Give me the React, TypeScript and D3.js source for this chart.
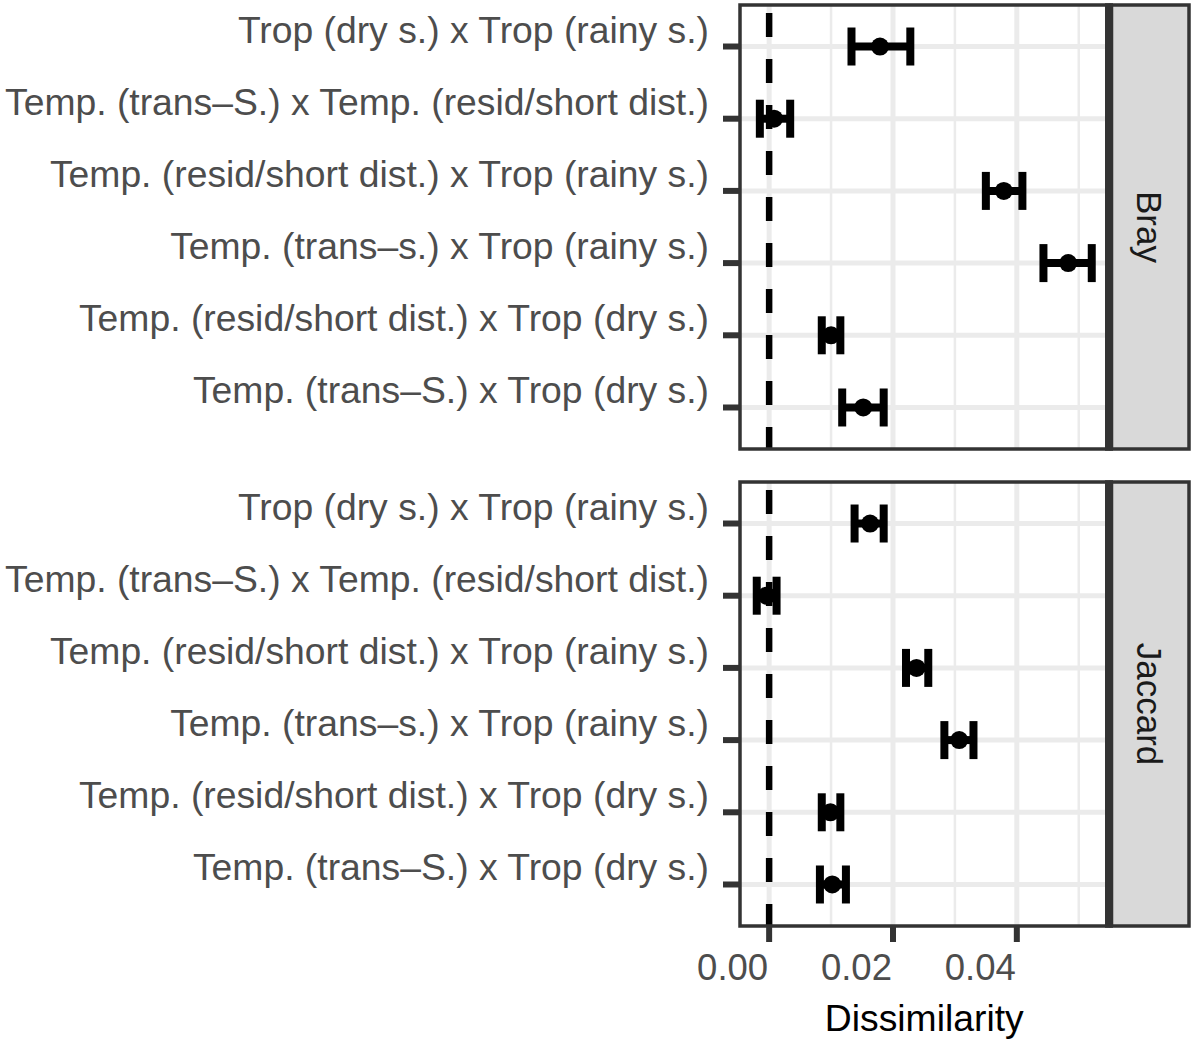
import React from "react";
import * as d3 from "d3";

// Pairwise comparisons, listed top to bottom
const categories = [
  "Trop (dry s.) x Trop (rainy s.)",
  "Temp. (trans–S.) x Temp. (resid/short dist.)",
  "Temp. (resid/short dist.) x Trop (rainy s.)",
  "Temp. (trans–s.) x Trop (rainy s.)",
  "Temp. (resid/short dist.) x Trop (dry s.)",
  "Temp. (trans–S.) x Trop (dry s.)",
];

const facets = ["Bray", "Jaccard"];

const brayMean = [0.0179, 0.0008, 0.0379, 0.0483, 0.01, 0.0152];
const brayLower = [0.0133, -0.0015, 0.035, 0.0443, 0.0085, 0.0118];
const brayUpper = [0.0228, 0.0034, 0.0409, 0.0521, 0.0115, 0.0185];

const jaccardMean = [0.0163, -0.0004, 0.0238, 0.0307, 0.0099, 0.0102];
const jaccardLower = [0.0138, -0.002, 0.0221, 0.0283, 0.0085, 0.0082];
const jaccardUpper = [0.0185, 0.0012, 0.0257, 0.033, 0.0115, 0.0124];

const majorTicks = [0, 0.02, 0.04];
const minorTicks = [0.01, 0.03, 0.05];
const tickLabels = ["0.00", "0.02", "0.04"];
const xTitle = "Dissimilarity";

type Row = { cat: string; mean: number; lower: number; upper: number };

const panelData: Row[][] = [
  categories.map((c, i) => ({ cat: c, mean: brayMean[i], lower: brayLower[i], upper: brayUpper[i] })),
  categories.map((c, i) => ({ cat: c, mean: jaccardMean[i], lower: jaccardLower[i], upper: jaccardUpper[i] })),
];

const W = 1192;
const H = 1041;
const left = 740;
const right = 1108.5;
const stripL = 1111.5;
const stripR = 1189;
const panels = [
  { top: 5, bottom: 449 },
  { top: 482, bottom: 926 },
];

const font = "'Liberation Sans', Arial, Helvetica, sans-serif";
const dark = "#333333";
const grid = "#EBEBEB";

export default function App() {
  const allLo = d3.min(panelData.flat(), (d) => d.lower) as number;
  const allHi = d3.max(panelData.flat(), (d) => d.upper) as number;
  const pad = (allHi - allLo) * 0.05;
  const x = d3.scaleLinear().domain([allLo - pad, allHi + pad]).range([left, right]);

  return (
    <svg
      width={W}
      height={H}
      style={{ position: "absolute", left: 0, top: 0, background: "#fff" }}
      fontFamily={font}
    >
      {panels.map((p, pi) => {
        const y = d3.scalePoint<string>().domain(categories).range([p.top, p.bottom]).padding(0.575);
        const rows = panelData[pi];
        const cy = (p.top + p.bottom) / 2;
        return (
          <g key={pi}>
            <rect x={left} y={p.top} width={right - left} height={p.bottom - p.top} fill="#fff" />
            {minorTicks.map((t) => (
              <line key={"mi" + t} x1={x(t)} x2={x(t)} y1={p.top} y2={p.bottom} stroke={grid} strokeWidth={2.5} />
            ))}
            {majorTicks.map((t) => (
              <line key={"ma" + t} x1={x(t)} x2={x(t)} y1={p.top} y2={p.bottom} stroke={grid} strokeWidth={5} />
            ))}
            {categories.map((c) => (
              <line key={"h" + c} x1={left} x2={right} y1={y(c)} y2={y(c)} stroke={grid} strokeWidth={5} />
            ))}
            {/* reference line at zero */}
            <line
              x1={x(0)}
              x2={x(0)}
              y1={p.top}
              y2={p.bottom}
              stroke="#000"
              strokeWidth={6.5}
              strokeDasharray="24 22"
              strokeDashoffset={38}
            />
            {rows.map((d) => {
              const yy = y(d.cat) as number;
              return (
                <g key={d.cat}>
                  <line x1={x(d.lower)} x2={x(d.upper)} y1={yy} y2={yy} stroke="#000" strokeWidth={8} />
                  <line x1={x(d.lower)} x2={x(d.lower)} y1={yy - 19} y2={yy + 19} stroke="#000" strokeWidth={8} />
                  <line x1={x(d.upper)} x2={x(d.upper)} y1={yy - 19} y2={yy + 19} stroke="#000" strokeWidth={8} />
                  <circle cx={x(d.mean)} cy={yy} r={9} fill="#000" />
                </g>
              );
            })}
            <rect
              x={left}
              y={p.top}
              width={right - left}
              height={p.bottom - p.top}
              fill="none"
              stroke={dark}
              strokeWidth={3.5}
            />
            {/* facet strip */}
            <rect
              x={stripL}
              y={p.top}
              width={stripR - stripL}
              height={p.bottom - p.top}
              fill="#D9D9D9"
              stroke={dark}
              strokeWidth={3.5}
            />
            <rect x={1105} y={p.top - 1.75} width={8} height={p.bottom - p.top + 3.5} fill={dark} />
            <text
              transform={`translate(${(stripL + stripR) / 2 - 1},${cy}) rotate(90)`}
              textAnchor="middle"
              dominantBaseline="central"
              fontSize={35}
              fill="#1A1A1A"
            >
              {facets[pi]}
            </text>
            {/* y axis ticks and labels */}
            {categories.map((c) => (
              <g key={"t" + c}>
                <line x1={723} x2={left} y1={y(c)} y2={y(c)} stroke={dark} strokeWidth={6} />
                <text x={709} y={(y(c) as number) - 4} textAnchor="end" fontSize={37.3} fill="#4D4D4D">
                  {c}
                </text>
              </g>
            ))}
          </g>
        );
      })}
      {/* x axis */}
      {majorTicks.map((t, i) => (
        <g key={"xt" + t}>
          <line x1={x(t)} x2={x(t)} y1={926} y2={942} stroke={dark} strokeWidth={6} />
          <text x={x(t) - 1} y={980} textAnchor="end" fontSize={36.5} fill="#4D4D4D">
            {tickLabels[i]}
          </text>
        </g>
      ))}
      <text x={(left + right) / 2} y={1031} textAnchor="middle" fontSize={37.3} fill="#000">
        {xTitle}
      </text>
    </svg>
  );
}
